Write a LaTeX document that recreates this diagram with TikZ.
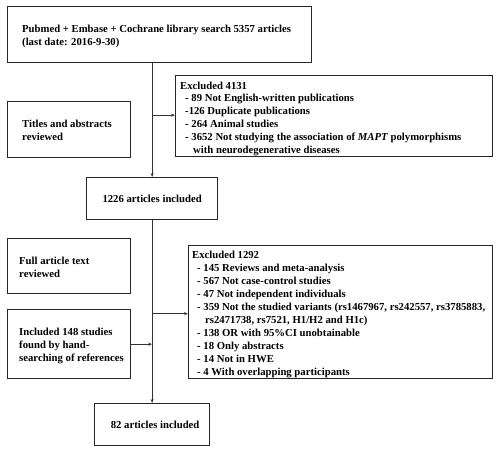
\documentclass[tikz,border=0pt]{standalone}
\usepackage{fontspec}
\setmainfont{Liberation Serif}
\usetikzlibrary{arrows.meta}
\begin{document}
\begin{tikzpicture}[x=1pt,y=-1pt,
  box/.style={draw=black!85, line width=1.3pt, inner sep=0pt, anchor=north west},
  txt/.style={inner sep=0pt, anchor=base west, align=left, font=\bfseries\fontsize{10.7}{13}\selectfont},
  arr/.style={draw=black!80, line width=0.8pt, -{Stealth[length=4pt,width=3pt]}}]
\useasboundingbox (0,0) rectangle (500,450);
% boxes
\node[box, minimum width=304pt, minimum height=56pt] (search) at (7,6) {};
\node[box, minimum width=123pt, minimum height=56pt] (titles) at (7,101) {};
\node[box, minimum width=317pt, minimum height=81pt] (excl1) at (175,75) {};
\node[box, minimum width=131pt, minimum height=42pt] (inc1226) at (86,177) {};
\node[box, minimum width=123pt, minimum height=55pt] (full) at (7,238) {};
\node[box, minimum width=123pt, minimum height=69pt] (hand) at (7,309) {};
\node[box, minimum width=304pt, minimum height=133pt] (excl2) at (188,245) {};
\node[box, minimum width=115pt, minimum height=42pt] (inc82) at (94,403) {};
% texts (anchor = baseline of last line)
\node[txt] (tsearch) at (22,45) {Pubmed + Embase + Cochrane library search 5357 articles\\(last date: 2016-9-30)};
\node[txt] (ttitles) at (22,140) {Titles and abstracts\\reviewed};
\node[txt, font=\bfseries\fontsize{10.7}{12.8}\selectfont] (texcl1) at (180,153) {Excluded 4131\\
\hspace*{5pt}- 89 Not English-written publications\\
\hspace*{5pt}-126 Duplicate publications\\
\hspace*{5pt}- 264 Animal studies\\
\hspace*{5pt}- 3652 Not studying the association of \textit{MAPT} polymorphisms\\
\hspace*{13pt}with neurodegenerative diseases};
\node[txt, anchor=center, align=center] (t1226) at (inc1226.center) {1226 articles included};
\node[txt] (tfull) at (19,277) {Full article text\\reviewed};
\node[txt] (thand) at (19,361) {Included 148 studies\\found by hand-\\searching of references};
\node[txt] (texcl2) at (192,375) {Excluded 1292\\
\hspace*{5pt}- 145 Reviews and meta-analysis\\
\hspace*{5pt}- 567 Not case-control studies\\
\hspace*{5pt}- 47 Not independent individuals\\
\hspace*{5pt}- 359 Not the studied variants (rs1467967, rs242557, rs3785883,\\
\hspace*{13pt}rs2471738, rs7521, H1/H2 and H1c)\\
\hspace*{5pt}- 138 OR with 95\%CI unobtainable\\
\hspace*{5pt}- 18 Only abstracts\\
\hspace*{5pt}- 14 Not in HWE\\
\hspace*{5pt}- 4 With overlapping participants};
\node[txt, anchor=center, align=center] (t82) at ([xshift=3pt]inc82.center) {82 articles included};
% connectors
\draw[arr] (search.south -| inc1226.north) -- (inc1226.north);
\draw[arr] ([yshift=1pt]excl1.west -| inc1226.north) -- ([yshift=1pt]excl1.west);
\draw[arr] (inc1226.south) -- (inc82.north);
\draw[arr] ([yshift=-1.5pt]excl2.west -| inc1226.south) -- ([yshift=-1.5pt]excl2.west);
\draw[arr] (hand.east) -- (hand.east -| inc1226.south);
\end{tikzpicture}
\end{document}
